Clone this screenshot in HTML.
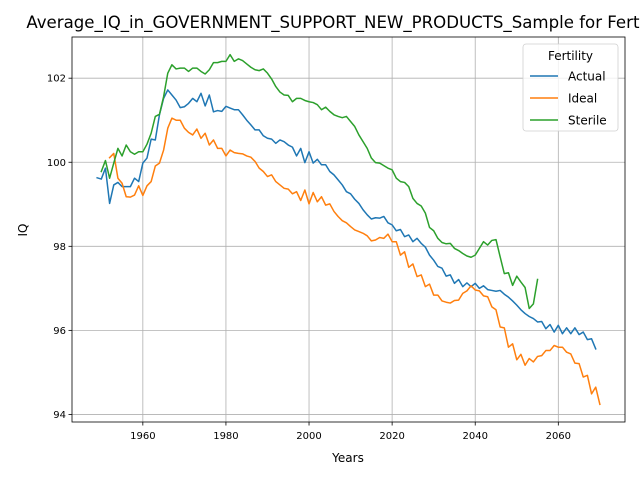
<!DOCTYPE html>
<html><head><meta charset="utf-8"><style>
body{margin:0;background:#fff;width:640px;height:480px;overflow:hidden}
svg text{font-family:"DejaVu Sans","Liberation Sans",sans-serif;fill:#000}
</style></head><body>
<svg id="chart" width="640" height="480" xmlns="http://www.w3.org/2000/svg"></svg>
<script>
const actualStart = 1949;
const actualValues = [99.63,99.6,99.86,99.02,99.46,99.52,99.42,99.42,99.42,99.62,99.54,99.98,100.1,100.55,100.53,101.13,101.52,101.72,101.6,101.48,101.3,101.32,101.4,101.52,101.44,101.64,101.34,101.6,101.2,101.23,
101.21,101.33,101.29,101.25,101.25,101.13,101.0,100.89,100.77,100.77,100.63,100.57,100.55,100.45,100.53,100.49,100.41,100.36,100.15,100.33,99.99,100.25,99.98,100.07,99.94,99.94,99.78,99.7,99.58,99.46,99.3,99.25,
99.12,99.02,98.87,98.75,98.65,98.68,98.67,98.71,98.56,98.51,98.37,98.4,98.23,98.27,98.11,98.19,98.07,97.98,97.79,97.67,97.52,97.48,97.29,97.32,97.12,97.21,97.04,97.13,97.04,97.12,97.0,97.06,
96.97,96.95,96.93,96.95,96.86,96.79,96.7,96.6,96.49,96.4,96.33,96.28,96.2,96.21,96.04,96.14,95.96,96.12,95.92,96.06,95.92,96.06,95.9,95.96,95.78,95.8,95.56];
const idealStart = 1952;
const idealValues = [100.11,100.21,99.62,99.5,99.18,99.17,99.22,99.44,99.21,99.44,99.54,99.91,99.98,100.29,100.81,101.05,101.0,101.0,100.81,100.71,100.65,100.79,100.57,100.69,100.41,100.53,100.33,100.33,
100.15,100.29,100.23,100.21,100.2,100.15,100.12,100.02,99.86,99.78,99.66,99.7,99.54,99.46,99.38,99.36,99.25,99.3,99.09,99.34,99.01,99.28,99.06,99.18,98.98,99.01,98.83,98.71,98.61,98.56,98.47,98.39,
98.35,98.31,98.25,98.13,98.15,98.21,98.19,98.29,98.11,98.11,97.79,97.87,97.5,97.58,97.28,97.32,97.04,97.1,96.84,96.84,96.7,96.67,96.65,96.71,96.72,96.88,96.94,97.06,96.96,96.94,96.82,96.8,
96.56,96.49,96.08,96.06,95.6,95.68,95.3,95.43,95.17,95.33,95.25,95.38,95.4,95.52,95.52,95.64,95.6,95.6,95.48,95.44,95.22,95.21,94.89,94.93,94.49,94.65,94.24];
const sterileStart = 1950;
const sterileValues = [99.78,100.04,99.62,99.98,100.33,100.15,100.41,100.25,100.19,100.25,100.25,100.43,100.69,101.09,101.14,101.56,102.12,102.32,102.22,102.24,102.24,102.16,102.24,102.24,102.16,102.1,102.2,102.37,102.37,102.4,
102.4,102.56,102.4,102.46,102.42,102.34,102.26,102.2,102.18,102.22,102.12,101.98,101.8,101.67,101.6,101.59,101.44,101.52,101.52,101.47,101.44,101.42,101.37,101.25,101.31,101.21,101.13,101.09,101.06,101.09,100.97,100.85,
100.65,100.49,100.33,100.1,99.99,99.98,99.92,99.86,99.82,99.62,99.54,99.52,99.42,99.14,99.02,98.96,98.79,98.45,98.37,98.19,98.09,98.06,98.07,97.95,97.9,97.83,97.77,97.74,97.79,97.95,98.11,98.03,
98.14,98.16,97.75,97.35,97.37,97.07,97.29,97.15,97.02,96.52,96.63,97.21];
const xTicks = [1960,1980,2000,2020,2040,2060];
const yTicks = [94,96,98,100,102];
const seriesNames = ["Actual","Ideal","Sterile"];

const NS="http://www.w3.org/2000/svg";
const svg=document.getElementById('chart');
const L=72,R=625,T=37,B=422;
const X0=1942.95,X1=2076.05,Y0=93.82,Y1=102.98;
const xs=v=>L+(v-X0)/(X1-X0)*(R-L);
const ys=v=>B-(v-Y0)/(Y1-Y0)*(B-T);
function mk(tag,attrs,parent){const e=document.createElementNS(NS,tag);for(const k in attrs)e.setAttribute(k,attrs[k]);(parent||svg).appendChild(e);return e;}

const grid=mk('g',{});


xTicks.forEach(t=>{mk('line',{x1:xs(t),x2:xs(t),y1:T,y2:B,stroke:'#b0b0b0','stroke-width':0.8},grid);});
yTicks.forEach(t=>{mk('line',{x1:L,x2:R,y1:ys(t),y2:ys(t),stroke:'#b0b0b0','stroke-width':0.8},grid);});

const colors=['#1f77b4','#ff7f0e','#2ca02c'];
const sets=[[actualStart,actualValues],[idealStart,idealValues],[sterileStart,sterileValues]];
sets.forEach((s,i)=>{
  const pts=s[1].map((v,j)=>xs(s[0]+j).toFixed(2)+','+ys(v).toFixed(2)).join(' ');
  const pl=mk('polyline',{points:pts,fill:'none',stroke:colors[i],'stroke-width':1.5,'stroke-linejoin':'round','stroke-linecap':'square'});
  
  
});

const frame=mk('rect',{x:L,y:T,width:R-L,height:B-T,fill:'none',stroke:'#000','stroke-width':0.8});



const xa=mk('g',{});


xTicks.forEach(t=>{
  mk('line',{x1:xs(t),x2:xs(t),y1:B,y2:B+3.5,stroke:'#000','stroke-width':0.8},xa);
  const tx=mk('text',{x:xs(t),y:B+17,'text-anchor':'middle','font-size':10},xa);
  tx.textContent=t;
  
  
});
const ya=mk('g',{});


yTicks.forEach(t=>{
  mk('line',{x1:L-3.5,x2:L,y1:ys(t),y2:ys(t),stroke:'#000','stroke-width':0.8},ya);
  const tx=mk('text',{x:L-6,y:ys(t)+3.5,'text-anchor':'end','font-size':10},ya);
  tx.textContent=t;
  
  
});
</script>
<svg style="position:absolute;left:0;top:0" width="640" height="480" xmlns="http://www.w3.org/2000/svg">
<text x="348" y="28" text-anchor="middle" font-size="16.6">Average_IQ_in_GOVERNMENT_SUPPORT_NEW_PRODUCTS_Sample for Fertility</text>
<text x="348" y="462" text-anchor="middle" font-size="12">Years</text>
<text x="27" y="230" text-anchor="middle" font-size="12" transform="rotate(-90 27 230)">IQ</text>
<g>
<rect x="523" y="44" width="95" height="87" rx="3" fill="#fff" fill-opacity="0.8" stroke="#d0d0d0" stroke-width="0.8"/>
<text x="570.5" y="60" text-anchor="middle" font-size="12">Fertility</text>
<g><line x1="530" x2="558" y1="76" y2="76" stroke="#1f77b4" stroke-width="1.5"/><text x="568" y="80.5" font-size="12">Actual</text></g>
<g><line x1="530" x2="558" y1="98" y2="98" stroke="#ff7f0e" stroke-width="1.5"/><text x="568" y="102.5" font-size="12">Ideal</text></g>
<g><line x1="530" x2="558" y1="120" y2="120" stroke="#2ca02c" stroke-width="1.5"/><text x="568" y="124.5" font-size="12">Sterile</text></g>
</g>
</svg>
</body></html>
